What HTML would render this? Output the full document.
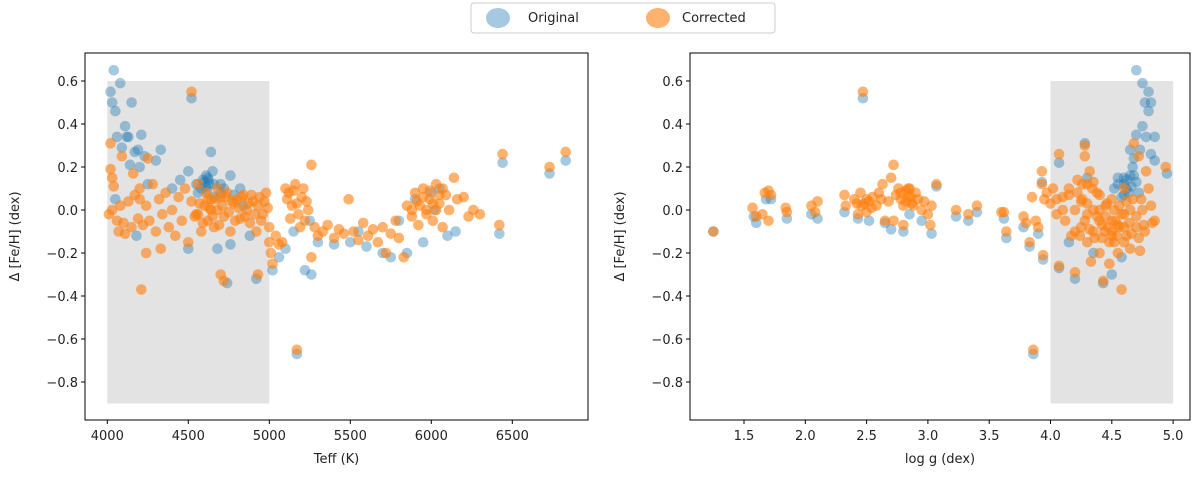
<!DOCTYPE html>
<html><head><meta charset="utf-8"><style>
body{margin:0;background:#fff;width:1200px;height:473px;overflow:hidden;font-family:"Liberation Sans","DejaVu Sans",sans-serif}
svg text{font-family:"DejaVu Sans","Liberation Sans",sans-serif;fill:#222}
</style></head><body>
<svg id="chart" width="1200" height="473" xmlns="http://www.w3.org/2000/svg"></svg>
<script>
const leftOrigX=[4020,4030,4040,4050,4080,4150,4110,4120,4130,4210,4060,4090,4170,4190,4230,4330,4140,4200,4640,4520,4760,4620,4600,4650,4500,4300,4050,4250,4400,4550,4700,4580,4610,4630,4660,4450,4180,4500,4680,4760,4920,4740,5170,5220,5260,5020,5060,5100,5150,5300,5400,5500,5600,5700,5750,5850,5950,6000,6050,6100,6150,6420,6440,6730,6830,5800,5900,6020,5550,5250,4820,4880,4560,4590,4605,4615,4625,4660,4700,4720,4780,4840];
const leftOrigY=[0.55,0.5,0.65,0.46,0.59,0.5,0.39,0.34,0.34,0.35,0.34,0.29,0.27,0.28,0.25,0.28,0.21,0.2,0.27,0.52,0.16,0.15,0.13,0.18,0.18,0.23,0.05,0.12,0.1,0.12,0.08,0.1,0.16,0.12,0.06,0.14,-0.12,-0.18,-0.18,-0.16,-0.32,-0.34,-0.67,-0.28,-0.3,-0.28,-0.22,-0.18,-0.1,-0.15,-0.16,-0.15,-0.17,-0.2,-0.22,-0.2,-0.15,0.08,0.1,-0.12,-0.1,-0.11,0.22,0.17,0.23,-0.05,0.05,0.0,-0.1,-0.05,0.1,-0.12,0.08,0.14,0.11,0.09,0.14,0.12,0.12,0.1,0.07,0.02];
const leftCorrX=[4010,4030,4060,4080,4100,4130,4150,4170,4190,4200,4220,4240,4260,4280,4300,4320,4340,4360,4380,4400,4420,4440,4460,4480,4500,4520,4540,4560,4580,4600,4620,4640,4660,4680,4700,4720,4740,4760,4780,4800,4820,4840,4860,4880,4900,4920,4940,4960,4980,5000,5000,5010,5020,5040,5060,5080,5100,5120,5140,5160,5180,5200,5220,5240,5260,5260,5280,5300,5330,5360,5400,5430,5460,5490,5520,5550,5580,5610,5640,5670,5700,5720,5750,5780,5800,5830,5850,5880,5900,5920,5950,5970,5990,6010,6030,6050,6070,6090,6110,6140,6160,6200,6230,6260,6300,6420,6440,6730,6830,5170,4520,4210,4240,4330,4700,4720,4930,4020,4020,4030,4040,4090,4160,4250,4070,4110,4620,4640,4560,4680,4200,4550,4570,4590,4610,4630,4650,4670,4690,4710,4730,4750,4770,4790,4810,4830,4850,4870,4890,4910,4930,4950,4970,4990,5110,5130,5150,5170,5190,5210,5230,5930,5950,5970,5990,6010,6030,6050,6070,5880,5910];
const leftCorrY=[-0.02,0.0,-0.05,0.02,-0.06,0.04,-0.08,0.07,-0.04,0.1,-0.07,0.02,-0.05,0.12,-0.1,0.05,-0.02,0.08,-0.08,0.0,-0.12,0.06,-0.05,0.1,-0.15,0.04,-0.03,0.12,-0.1,0.02,-0.05,0.05,-0.08,0.0,0.06,-0.03,0.08,-0.1,0.03,0.05,-0.04,0.07,0.0,-0.06,0.04,-0.1,0.06,-0.02,0.08,-0.08,-0.15,-0.2,-0.25,-0.12,-0.16,-0.15,0.1,0.08,0.02,0.12,-0.02,0.06,-0.05,0.0,0.21,-0.22,-0.08,-0.12,-0.1,-0.07,-0.13,-0.09,-0.11,0.05,-0.1,-0.14,-0.06,-0.12,-0.09,-0.15,-0.08,-0.2,-0.11,-0.05,-0.13,-0.22,0.02,-0.03,0.08,-0.07,0.1,0.0,0.05,-0.05,0.12,0.03,-0.08,0.07,0.0,0.15,0.05,0.06,-0.03,0.0,-0.02,-0.07,0.26,0.2,0.27,-0.65,0.55,-0.37,-0.2,-0.18,-0.3,-0.33,-0.3,0.31,0.19,0.15,0.11,0.25,0.17,0.24,-0.1,-0.11,0.05,0.0,-0.02,0.1,0.05,-0.02,0.03,-0.06,0.08,0.01,-0.03,0.05,-0.07,0.02,0.06,-0.01,0.04,-0.05,0.01,0.06,-0.03,0.03,0.07,-0.02,0.02,-0.05,0.04,0.01,0.05,-0.04,0.09,0.03,-0.08,0.1,0.04,0.02,0.06,-0.02,0.09,0.03,0.0,0.07,0.1,0.0,0.04];
const rightOrigX=[1.25,1.58,1.6,1.68,1.72,1.85,2.05,2.1,2.32,2.43,2.47,2.52,2.65,2.7,2.8,2.85,2.95,3.03,3.07,3.23,3.33,3.4,3.62,3.64,3.78,3.83,3.86,3.9,3.94,3.93,4.07,4.07,4.2,4.28,4.43,4.5,4.7,4.75,4.8,4.77,4.82,4.8,4.75,4.7,4.85,4.78,4.65,4.73,4.82,4.85,4.68,4.6,4.65,4.7,4.55,4.62,4.67,4.72,4.6,4.58,4.95,4.3,4.15,4.35,4.55,4.6,4.62,4.64,4.66,4.58,4.68,4.52];
const rightOrigY=[-0.1,-0.03,-0.06,0.05,0.05,-0.04,-0.02,-0.04,-0.01,-0.04,0.52,-0.05,-0.06,-0.09,-0.1,-0.02,-0.05,-0.11,0.11,-0.03,-0.05,-0.01,-0.04,-0.13,-0.08,-0.17,-0.67,-0.11,-0.23,0.13,0.22,-0.27,-0.32,0.31,-0.34,-0.3,0.65,0.59,0.55,0.5,0.5,0.46,0.39,0.35,0.34,0.34,0.28,0.28,0.26,0.23,0.24,0.15,0.16,0.13,0.12,0.1,0.2,0.08,0.07,-0.22,0.17,0.15,-0.15,-0.2,0.15,0.12,0.14,0.08,0.11,0.06,0.16,0.1];
const rightCorrX=[1.25,1.57,1.6,1.65,1.67,1.7,1.72,1.7,1.84,1.85,2.05,2.08,2.1,2.32,2.33,2.4,2.43,2.45,2.47,2.48,2.5,2.52,2.55,2.58,2.6,2.62,2.63,2.65,2.68,2.7,2.72,2.72,2.74,2.76,2.78,2.8,2.8,2.82,2.84,2.85,2.87,2.9,2.92,2.95,2.97,3.0,3.02,3.03,3.07,3.23,3.33,3.4,3.6,3.62,3.64,3.78,3.8,3.83,3.85,3.86,3.88,3.9,3.93,3.93,3.94,3.95,3.97,4.0,4.02,4.05,4.07,4.07,4.1,4.12,4.15,4.17,4.2,4.2,4.22,4.25,4.26,4.28,4.28,4.3,4.3,4.32,4.33,4.35,4.35,4.38,4.4,4.4,4.42,4.43,4.45,4.47,4.48,4.5,4.5,4.52,4.53,4.55,4.56,4.58,4.6,4.6,4.62,4.65,4.65,4.67,4.68,4.7,4.72,4.73,4.75,4.77,4.78,4.8,4.82,4.83,4.85,4.94,4.3,4.35,4.4,4.45,4.55,4.6,4.5,4.25,4.2,4.22,4.24,4.26,4.28,4.3,4.32,4.34,4.36,4.38,4.4,4.42,4.44,4.46,4.48,4.5,4.52,4.54,4.56,4.58,4.6,4.62,4.64,4.66,4.7,4.72,4.74,4.76,4.05,4.1,4.15,2.78,2.82,2.84,2.86,2.88,2.42,2.46,2.5,2.54];
const rightCorrY=[-0.1,0.01,-0.03,-0.02,0.08,0.09,0.07,-0.05,0.01,-0.01,0.02,-0.01,0.04,0.07,0.02,0.05,-0.02,0.08,0.55,0.03,-0.01,0.04,0.06,0.02,0.08,0.05,0.12,-0.05,0.04,0.15,0.21,-0.05,0.07,0.1,0.05,0.02,-0.07,0.09,0.06,0.1,0.03,0.08,0.05,0.0,0.04,-0.02,-0.07,0.02,0.12,0.0,-0.02,0.02,-0.01,-0.01,-0.1,-0.03,-0.06,-0.15,0.06,-0.65,-0.05,-0.08,0.18,0.12,-0.21,0.05,0.08,0.03,0.1,-0.02,0.26,-0.26,0.06,-0.05,0.1,-0.12,0.0,-0.29,0.14,-0.08,0.05,0.3,0.25,-0.02,-0.15,0.18,-0.24,0.0,-0.1,0.08,-0.05,-0.2,-0.13,-0.33,0.02,-0.08,-0.25,-0.1,0.05,-0.15,-0.05,-0.2,0.02,-0.37,-0.08,0.1,-0.12,0.0,-0.18,0.05,0.31,-0.08,0.25,-0.19,0.0,-0.1,0.18,0.1,0.02,-0.06,-0.05,0.2,0.12,0.13,0.07,-0.03,-0.07,-0.02,-0.12,0.04,-0.1,0.08,-0.12,0.12,-0.05,0.03,-0.09,0.1,-0.13,-0.03,0.0,-0.07,-0.1,0.03,-0.15,-0.05,0.0,-0.12,-0.08,-0.02,-0.15,0.04,-0.06,-0.11,-0.03,-0.13,0.05,-0.07,0.05,0.0,0.07,0.08,0.04,0.1,0.06,0.02,0.03,0.02,0.05,0.01];
const leftXTicks=[4000,4500,5000,5500,6000,6500];
const rightXTicks=[1.5,2.0,2.5,3.0,3.5,4.0,4.5,5.0];
const yTicks=[0.6,0.4,0.2,0.0,-0.2,-0.4,-0.6,-0.8];

const NS="http://www.w3.org/2000/svg";
const svg=document.getElementById('chart');
function mk(tag,attrs,parent){const e=document.createElementNS(NS,tag);for(const k in attrs)e.setAttribute(k,attrs[k]);(parent||svg).appendChild(e);return e;}
const axTop=53,axBot=420;
const yS=v=>210-v*215;
const lx=t=>107.3+(t-4000)*0.162;
const rx=g=>744+(g-1.5)*122.6;

function panel(name,x0,x1,xs,rect,ticks,fmt,ox,oy,cx,cy,xtitle){
  const g=mk('g',{});
  
  
  const r=mk('rect',{x:xs(rect[0]),y:yS(0.6),width:xs(rect[1])-xs(rect[0]),height:yS(-0.9)-yS(0.6),fill:'#e3e3e3'},g);
  
  
  for(let i=0;i<ox.length;i++){const c=mk('circle',{cx:xs(ox[i]),cy:yS(oy[i]),r:5.3,fill:'#1f77b4','fill-opacity':0.4},g);
    
    }
  for(let i=0;i<cx.length;i++){const c=mk('circle',{cx:xs(cx[i]),cy:yS(cy[i]),r:5.3,fill:'#ff7f0e','fill-opacity':0.6},g);
    
    }
  const f=mk('rect',{x:x0,y:axTop,width:x1-x0,height:axBot-axTop,fill:'none',stroke:'#000','stroke-width':1},g);
  
  
  ticks.forEach(t=>{const x=xs(t);mk('line',{x1:x,x2:x,y1:axBot,y2:axBot+4,stroke:'#000'},g);
    const tx=mk('text',{x:x,y:axBot+20,'text-anchor':'middle','font-size':13},g);tx.textContent=fmt(t);
    
    });
  yTicks.forEach(t=>{const y=yS(t);mk('line',{x1:x0-4,x2:x0,y1:y,y2:y,stroke:'#000'},g);
    const tx=mk('text',{x:x0-7,y:y+5,'text-anchor':'end','font-size':13},g);tx.textContent=(t<0?'\u2212':'')+Math.abs(t).toFixed(1);
    
    });
  const xt=mk('text',{x:(x0+x1)/2,y:463,'text-anchor':'middle','font-size':13},g);xt.textContent=xtitle;
  
  
  const yt=mk('text',{x:0,y:0,'text-anchor':'middle','font-size':13,transform:`translate(${x0-66},${(axTop+axBot)/2}) rotate(-90)`},g);yt.textContent='\u0394 [Fe/H] (dex)';
  
  
}
panel('teff-panel',85,588,lx,[4000,5000],leftXTicks,t=>String(t),leftOrigX,leftOrigY,leftCorrX,leftCorrY,'Teff (K)');
panel('logg-panel',690,1190,rx,[4.0,5.0],rightXTicks,t=>t.toFixed(1),rightOrigX,rightOrigY,rightCorrX,rightCorrY,'log g (dex)');

const lg=mk('g',{});


mk('rect',{x:471,y:3,width:304,height:30,rx:3,fill:'#fff',stroke:'#ccc'},lg);
const e1=mk('ellipse',{cx:498,cy:18,rx:12,ry:10,fill:'#1f77b4','fill-opacity':0.4},lg);


const t1=mk('text',{x:528,y:22,'font-size':13},lg);t1.textContent='Original';


const e2=mk('ellipse',{cx:658,cy:18,rx:12,ry:10,fill:'#ff7f0e','fill-opacity':0.6},lg);


const t2=mk('text',{x:682,y:22,'font-size':13},lg);t2.textContent='Corrected';


</script>
</body></html>
